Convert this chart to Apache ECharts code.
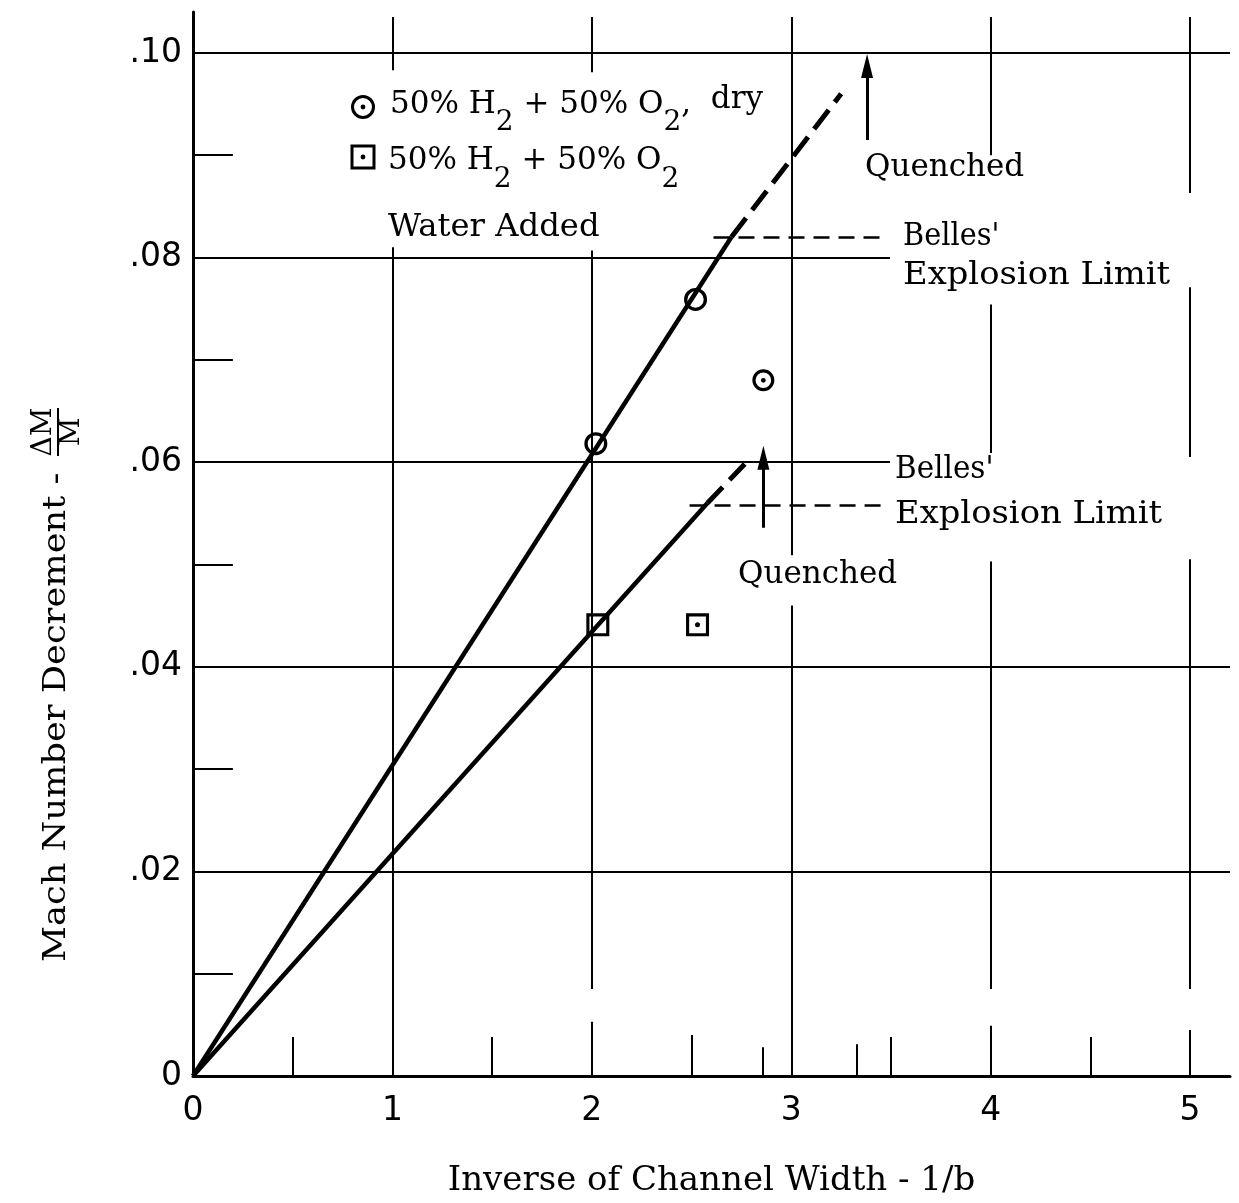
<!DOCTYPE html>
<html>
<head>
<meta charset="utf-8">
<script src="https://cdn.jsdelivr.net/npm/echarts@6/dist/echarts.min.js"></script>
<style>html,body{margin:0;padding:0;background:#fff}#c{width:1239px;height:1203px}</style>
</head>
<body>
<div id="c"></div>
<script>
// ---------- data ----------
const xTickLabels = ['0', '1', '2', '3', '4', '5'];
const yTickLabels = ['0', '.02', '.04', '.06', '.08', '.10'];

const dryOpen = [[2.02, 0.0618], [2.52, 0.0759]];
const dryQuenched = [[2.86, 0.0680]];
const wetOpen = [[2.03, 0.0441]];
const wetQuenched = [[2.53, 0.0441]];

const dryLineSolid = [[0, 0], [2.70, 0.0820]];
const dryLineDashed = [[2.70, 0.0820], [3.25, 0.0960]];
const wetLineSolid = [[0, 0], [2.58, 0.0560]];
const wetLineDashed = [[2.58, 0.0560], [2.79, 0.0603]];

const bellesLimits = [
  [[2.61, 0.0820], [3.45, 0.0820]],
  [[2.49, 0.0558], [3.47, 0.0558]]
];
const quenchShafts = [
  [[3.38, 0.0915], [3.38, 0.0985]],
  [[2.86, 0.0536], [2.86, 0.0602]]
];
const quenchTips = [[3.38, 0.0999], [2.86, 0.0616]];

const hGrid = [
  [[0, 0.02], [5.2, 0.02]],
  [[0, 0.04], [5.2, 0.04]],
  [[0, 0.06], [3.495, 0.06]],
  [[0, 0.08], [3.495, 0.08]],
  [[0, 0.10], [5.2, 0.10]]
];
const vGrid = [
  [[1, 0], [1, 0.0810]], [[1, 0.0983], [1, 0.1035]],
  [[2, 0], [2, 0.0053]], [[2, 0.0085], [2, 0.0807]], [[2, 0.0981], [2, 0.1035]],
  [[3, 0], [3, 0.0460]], [[3, 0.0509], [3, 0.1035]],
  [[4, 0], [4, 0.0049]], [[4, 0.0085], [4, 0.0503]], [[4, 0.0609], [4, 0.0754]], [[4, 0.0900], [4, 0.1035]],
  [[5, 0], [5, 0.0045]], [[5, 0.0085], [5, 0.0505]], [[5, 0.0605], [5, 0.0771]], [[5, 0.0863], [5, 0.1035]]
];
const yMinorTicks = [
  [[0, 0.01], [0.2, 0.01]], [[0, 0.03], [0.2, 0.03]], [[0, 0.05], [0.2, 0.05]],
  [[0, 0.07], [0.2, 0.07]], [[0, 0.09], [0.2, 0.09]]
];
const xMinorTicks = [
  [[0.5, 0], [0.5, 0.0038]], [[1.5, 0], [1.5, 0.0038]], [[2.5, 0], [2.5, 0.0040]],
  [[2.857, 0], [2.857, 0.0028]], [[3.33, 0], [3.33, 0.0031]], [[3.5, 0], [3.5, 0.0038]],
  [[4.5, 0], [4.5, 0.0038]]
];

// ---------- helpers ----------
const INK = '#000';
const SERIF = 'DejaVu Serif';
const SANS = 'DejaVu Sans';
const mctx = document.createElement('canvas').getContext('2d');
function measure(t, size) { mctx.font = size + 'px "' + SERIF + '"'; return mctx.measureText(t).width; }
function txt(t, x, y, size, align, sx) {
  return { type: 'text', x: x, y: y, scaleX: sx || 1, silent: true,
    style: { text: t, fontSize: size, fontFamily: SERIF, fill: INK, align: align || 'left', verticalAlign: 'middle' } };
}
function row(x, y, parts) {
  const out = []; let cx = x;
  parts.forEach(p => { out.push(txt(p[0], cx, y + p[2], p[1])); cx += measure(p[0], p[1]); });
  return out;
}
function segs(arr) { return arr.map(c => ({ coords: c })); }

const RING = 'path://M12,1A11,11 0 1,1 11.99,1Z M12,4.2A7.8,7.8 0 1,0 12.01,4.2Z';
const RING_DOT = RING + ' M12,9.6A2.4,2.4 0 1,1 11.99,9.6Z';
const BOX = 'path://M1,1H23V23H1Z M4,4V20H20V4Z';
const BOX_DOT = BOX + ' M12,9.6A2.4,2.4 0 1,1 11.99,9.6Z';

const chart = echarts.init(document.getElementById('c'));

const graphics = [].concat(
  // legend
  [
    { type: 'circle', shape: { cx: 363, cy: 107, r: 10.5 }, style: { fill: 'none', stroke: INK, lineWidth: 3 } },
    { type: 'circle', shape: { cx: 363, cy: 107, r: 2.4 }, style: { fill: INK } },
    { type: 'rect', shape: { x: 352, y: 146, width: 22, height: 22 }, style: { fill: 'none', stroke: INK, lineWidth: 3 } },
    { type: 'circle', shape: { cx: 363, cy: 157, r: 2.4 }, style: { fill: INK } }
  ],
  row(390, 105, [['50% H', 31, 0], ['2', 28, 18], [' + 50% O', 31, 0], ['2', 28, 18], [',', 31, 0], ['  dry', 31, -5]]),
  row(388, 161, [['50% H', 31, 0], ['2', 28, 19], [' + 50% O', 31, 0], ['2', 28, 19]]),
  [
    txt('Water Added', 388, 228, 31, 'left', 1.04),
    txt('Quenched', 865, 168, 31),
    txt("Belles'", 903, 237, 31, 'left', 0.93),
    txt('Explosion Limit', 903, 276, 31, 'left', 1.09),
    txt("Belles'", 895, 470, 31, 'left', 0.95),
    txt('Explosion Limit', 895, 515, 31, 'left', 1.09),
    txt('Quenched', 738, 575, 31),
    // y axis title (rotated)
    { type: 'group', x: 57, y: 962, rotation: Math.PI / 2, silent: true, children: [
      txt('Mach Number Decrement -', 0, 0, 32, 'left', 1.1),
      txt('\u0394M', 530, -13, 28, 'center'),
      { type: 'line', shape: { x1: 506, y1: 1, x2: 554, y2: 1 }, style: { stroke: INK, lineWidth: 2 } },
      txt('M', 530, 15, 28, 'center')
    ] }
  ]
);

const option = {
  animation: false,
  backgroundColor: '#fff',
  grid: { left: 193, top: 12, width: 1037, height: 1064 },
  xAxis: {
    type: 'value', min: 0, max: 5.2, interval: 1,
    axisLine: { show: true, onZero: false, lineStyle: { color: INK, width: 3 } },
    axisTick: { show: false }, splitLine: { show: false },
    axisLabel: {
      margin: 19, fontSize: 33, fontFamily: SANS, color: INK,
      formatter: v => { const i = Math.round(v); return (Math.abs(v - i) < 1e-6 && i < xTickLabels.length) ? xTickLabels[i] : ''; }
    },
    name: 'Inverse of Channel Width - 1/b', nameLocation: 'middle', nameGap: 88,
    nameTextStyle: { fontSize: 34, fontFamily: SERIF, color: INK }
  },
  yAxis: {
    type: 'value', min: 0, max: 0.104, interval: 0.02,
    axisLine: { show: true, onZero: false, lineStyle: { color: INK, width: 3 } },
    axisTick: { show: false }, splitLine: { show: false },
    axisLabel: {
      margin: 11, fontSize: 33, fontFamily: SANS, color: INK,
      formatter: v => { const i = Math.round(v / 0.02); return (Math.abs(v - i * 0.02) < 1e-6 && i < yTickLabels.length) ? yTickLabels[i] : ''; }
    }
  },
  graphic: graphics,
  series: [
    { type: 'lines', coordinateSystem: 'cartesian2d', silent: true, z: 1,
      lineStyle: { color: INK, width: 2, opacity: 1 }, data: segs(hGrid.concat(vGrid)) },
    { type: 'lines', coordinateSystem: 'cartesian2d', silent: true, z: 1,
      lineStyle: { color: INK, width: 2, opacity: 1 }, data: segs(yMinorTicks.concat(xMinorTicks)) },
    { type: 'lines', coordinateSystem: 'cartesian2d', silent: true, z: 2,
      lineStyle: { color: INK, width: 2.5, opacity: 1, type: [16, 9] }, data: segs(bellesLimits) },
    { type: 'lines', coordinateSystem: 'cartesian2d', silent: true, z: 2,
      lineStyle: { color: INK, width: 3, opacity: 1 }, data: segs(quenchShafts) },
    { type: 'scatter', silent: true, z: 3, symbol: 'triangle', symbolSize: [12, 24], symbolOffset: [0, '50%'],
      itemStyle: { color: INK, opacity: 1 }, data: quenchTips },
    { type: 'line', name: 'dry line', data: dryLineSolid, symbol: 'none', silent: true, z: 3,
      lineStyle: { color: INK, width: 4.5 } },
    { type: 'line', name: 'dry line ext', data: dryLineDashed, symbol: 'none', silent: true, z: 3,
      lineStyle: { color: INK, width: 5, type: [24, 10] } },
    { type: 'line', name: 'wet line', data: wetLineSolid, symbol: 'none', silent: true, z: 3,
      lineStyle: { color: INK, width: 4.5 } },
    { type: 'line', name: 'wet line ext', data: wetLineDashed, symbol: 'none', silent: true, z: 3,
      lineStyle: { color: INK, width: 5, type: [22, 10] } },
    { type: 'scatter', name: '50% H2 + 50% O2, dry', data: dryOpen, symbol: RING, symbolSize: 23, z: 4,
      itemStyle: { color: INK, opacity: 1 } },
    { type: 'scatter', name: '50% H2 + 50% O2, dry (quenched)', data: dryQuenched, symbol: RING_DOT, symbolSize: 22, z: 4,
      itemStyle: { color: INK, opacity: 1 } },
    { type: 'scatter', name: '50% H2 + 50% O2, water added', data: wetOpen, symbol: BOX, symbolSize: 23, z: 4,
      itemStyle: { color: INK, opacity: 1 } },
    { type: 'scatter', name: '50% H2 + 50% O2, water added (quenched)', data: wetQuenched, symbol: BOX_DOT, symbolSize: 23, z: 4,
      itemStyle: { color: INK, opacity: 1 } }
  ]
};
chart.setOption(option);
</script>
</body>
</html>
